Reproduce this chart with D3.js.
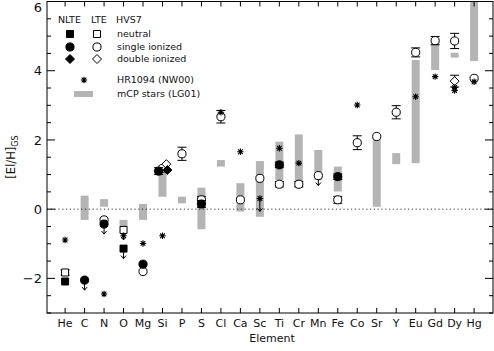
<!DOCTYPE html>
<html>
<head>
<meta charset="utf-8">
<script src="https://cdn.jsdelivr.net/npm/d3@7"></script>
<style>
  body { margin: 0; background: #fff; }
  text { font-family: "DejaVu Sans", sans-serif; fill: #111; }
</style>
</head>
<body>
<div id="chart"></div>
<script>
var width = 494;
var height = 351;

var elements = ["He", "C", "N", "O", "Mg", "Si", "P", "S", "Cl", "Ca", "Sc",
  "Ti", "Cr", "Mn", "Fe", "Co", "Sr", "Y", "Eu", "Gd", "Dy", "Hg"];

// mCP stars (LG01) ranges: [element, low, high]
var mcpRanges = [
  ["C", -0.31, 0.39], ["N", 0.07, 0.29], ["O", -0.52, -0.31], ["Mg", -0.31, 0.15],
  ["Si", 0.36, 1.28], ["P", 0.17, 0.36], ["S", -0.58, 0.62], ["Cl", 1.23, 1.42],
  ["Ca", -0.07, 0.75], ["Sc", -0.22, 1.39], ["Ti", 0.84, 1.95], ["Cr", 0.70, 2.16],
  ["Mn", 0.84, 1.71], ["Fe", 0.51, 1.23], ["Sr", 0.07, 2.10], ["Y", 1.30, 1.62],
  ["Eu", 1.33, 4.31], ["Gd", 4.02, 4.84], ["Dy", 4.38, 4.52], ["Hg", 4.28, 6.4]
];

// HR1094 (NW00): [element, value, upper limit]
var hr1094 = [
  ["He", -0.89, false], ["N", -2.45, false], ["O", -0.77, false], ["Mg", -0.99, false],
  ["Si", -0.77, false], ["Cl", 2.80, false], ["Ca", 1.66, false], ["Sc", 0.31, true],
  ["Ti", 1.76, false], ["Cr", 1.33, false], ["Co", 3.01, false], ["Eu", 3.25, false],
  ["Gd", 3.83, false], ["Dy", 3.52, false], ["Dy", 3.43, false], ["Hg", 3.68, false]
];

// HVS7: [element, value, error, upper limit, x shift]
var nlteNeutral = [["He", -2.09, 0, false, 0], ["O", -1.14, 0, true, 0]];
var lteNeutral = [["He", -1.83, 0.08, false, 0], ["O", -0.60, 0, true, 0]];
var nlteSingle = [
  ["C", -2.05, 0, true, 0], ["N", -0.43, 0, true, 0], ["Mg", -1.59, 0, false, 0],
  ["Si", 1.10, 0.10, false, -0.2], ["S", 0.15, 0.10, false, 0], ["Ti", 1.28, 0.08, false, 0],
  ["Fe", 0.94, 0.08, false, 0]
];
var lteSingle = [
  ["N", -0.31, 0, false, 0], ["Mg", -1.80, 0, false, 0], ["Si", 1.18, 0, false, 0],
  ["P", 1.60, 0.19, false, 0], ["S", 0.27, 0.10, false, 0], ["Cl", 2.67, 0.18, false, 0],
  ["Ca", 0.27, 0, false, 0], ["Sc", 0.89, 0, false, 0], ["Ti", 0.72, 0.08, false, 0],
  ["Cr", 0.72, 0.08, false, 0], ["Mn", 0.97, 0, true, 0], ["Fe", 0.27, 0.10, false, 0],
  ["Co", 1.92, 0.20, false, 0], ["Sr", 2.10, 0, false, 0], ["Y", 2.80, 0.19, false, 0],
  ["Eu", 4.53, 0.13, false, 0], ["Gd", 4.87, 0.12, false, 0], ["Dy", 4.86, 0.22, false, 0],
  ["Hg", 3.78, 0, false, 0]
];
var nlteDouble = [["Si", 1.13, 0, false, 0.25]];
var lteDouble = [["Si", 1.30, 0, false, 0.2], ["Dy", 3.70, 0.17, false, 0]];

var yTicks = [-2, 0, 2, 4, 6];

var plotLeft = 47, plotRight = 493, plotTop = 1.5, plotBottom = 313;

var x = d3.scaleLinear().domain([-0.93, 21.97]).range([plotLeft, plotRight]);
var y = d3.scaleLinear().domain([-3, 6]).range([plotBottom, plotTop]);

function ex(name, shift) {
  return x(elements.indexOf(name) + (shift || 0));
}

var svg = d3.select("#chart").append("svg")
  .attr("width", width).attr("height", height);

svg.append("defs").append("clipPath").attr("id", "plot-clip")
  .append("rect").attr("x", plotLeft).attr("y", plotTop)
  .attr("width", plotRight - plotLeft).attr("height", plotBottom - plotTop);

var plot = svg.append("g").attr("clip-path", "url(#plot-clip)");

// gray mCP bars
plot.selectAll("rect.mcp")
  .data(mcpRanges)
  .enter()
  .append("rect")
  .attr("class", "mcp")
  .attr("x", (d) => ex(d[0]) - 4)
  .attr("width", 8)
  .attr("y", (d) => y(d[2]))
  .attr("height", (d) => y(d[1]) - y(d[2]))
  .attr("fill", "#b4b4b4");

// zero line
plot.append("line")
  .attr("x1", plotLeft).attr("x2", plotRight)
  .attr("y1", y(0)).attr("y2", y(0))
  .attr("stroke", "#000").attr("stroke-width", 0.8)
  .attr("stroke-dasharray", "1.2,2.6");

function asteriskPath(s) {
  var d = s * 0.72;
  return `M${-s},0L${s},0M0,${-s}L0,${s}M${-d},${-d}L${d},${d}M${-d},${d}L${d},${-d}`;
}

function drawErrors(g, data) {
  var withErr = data.filter((d) => d[2] > 0);
  g.selectAll("path.err")
    .data(withErr)
    .enter()
    .append("path")
    .attr("class", "err")
    .attr("d", (d) => {
      var cx = ex(d[0], d[4]);
      var y1 = y(d[1] + d[2]);
      var y2 = y(d[1] - d[2]);
      return `M${cx},${y1}L${cx},${y2}M${cx - 4.5},${y1}L${cx + 4.5},${y1}M${cx - 4.5},${y2}L${cx + 4.5},${y2}`;
    })
    .attr("stroke", "#000")
    .attr("stroke-width", 1)
    .attr("fill", "none");
}

function drawLimits(g, data) {
  g.selectAll("path.lim")
    .data(data.filter((d) => d[3]))
    .enter()
    .append("path")
    .attr("class", "lim")
    .attr("d", (d) => {
      var cx = ex(d[0], d[4]);
      var cy = y(d[1]);
      var end = cy + 10;
      return `M${cx},${cy}L${cx},${end}M${cx - 2.5},${end - 3}L${cx},${end}L${cx + 2.5},${end - 3}`;
    })
    .attr("stroke", "#000")
    .attr("stroke-width", 1)
    .attr("fill", "none");
}

function drawMarkers(data, shape, filled) {
  var g = plot.append("g");
  drawLimits(g, data);
  drawErrors(g, data);
  g.selectAll("path.mk")
    .data(data)
    .enter()
    .append("path")
    .attr("class", "mk")
    .attr("transform", (d) => `translate(${ex(d[0], d[4])},${y(d[1])})`)
    .attr("d", shape)
    .attr("fill", filled ? "#000" : "#fff")
    .attr("stroke", "#000")
    .attr("stroke-width", 1);
}

var squareShape = "M-3.5,-3.5H3.5V3.5H-3.5Z";
var circleShape = d3.symbol().type(d3.symbolCircle).size(52)();
var diamondShape = "M0,-4.5L4.5,0L0,4.5L-4.5,0Z";

drawMarkers(lteNeutral, squareShape, false);
drawMarkers(nlteNeutral, squareShape, true);
drawMarkers(lteSingle, circleShape, false);
drawMarkers(nlteSingle, circleShape, true);
drawMarkers(lteDouble, diamondShape, false);
drawMarkers(nlteDouble, diamondShape, true);

// HR1094 asterisks
var starGroup = plot.append("g");
starGroup.selectAll("path.lim")
  .data(hr1094.filter((d) => d[2]))
  .enter()
  .append("path")
  .attr("d", (d) => {
    var cx = ex(d[0]), cy = y(d[1]), end = cy + 13;
    return `M${cx},${cy}L${cx},${end}M${cx - 2.5},${end - 3}L${cx},${end}L${cx + 2.5},${end - 3}`;
  })
  .attr("stroke", "#000").attr("fill", "none");
starGroup.selectAll("path.star")
  .data(hr1094)
  .enter()
  .append("path")
  .attr("class", "star")
  .attr("transform", (d) => `translate(${ex(d[0])},${y(d[1])})`)
  .attr("d", asteriskPath(3.2))
  .attr("stroke", "#000")
  .attr("stroke-width", 1.1)
  .attr("fill", "none");

// frame and ticks
svg.append("rect")
  .attr("x", plotLeft).attr("y", plotTop)
  .attr("width", plotRight - plotLeft).attr("height", plotBottom - plotTop)
  .attr("fill", "none").attr("stroke", "#000").attr("stroke-width", 1);

var minorY = d3.range(-3, 6.01, 0.5);
var axisG = svg.append("g").attr("stroke", "#000").attr("stroke-width", 1);

minorY.forEach((v) => {
  var len = yTicks.includes(v) ? 8 : 4;
  axisG.append("line").attr("x1", plotLeft).attr("x2", plotLeft + len)
    .attr("y1", y(v)).attr("y2", y(v));
  axisG.append("line").attr("x1", plotRight).attr("x2", plotRight - len)
    .attr("y1", y(v)).attr("y2", y(v));
});

elements.forEach((el, i) => {
  axisG.append("line").attr("x1", x(i)).attr("x2", x(i))
    .attr("y1", plotBottom).attr("y2", plotBottom - 5);
  axisG.append("line").attr("x1", x(i)).attr("x2", x(i))
    .attr("y1", plotTop).attr("y2", plotTop + 5);
});

// keep the top label inside the window
svg.selectAll("text.ytick")
  .data(yTicks)
  .enter()
  .append("text")
  .attr("class", "ytick")
  .attr("x", plotLeft - 5)
  .attr("y", (d) => Math.max(y(d), 7))
  .attr("dy", "0.36em")
  .attr("text-anchor", "end")
  .style("font-size", "13px")
  .text((d) => (d < 0 ? "\u2212" + Math.abs(d) : d));

svg.selectAll("text.xtick")
  .data(elements)
  .enter()
  .append("text")
  .attr("class", "xtick")
  .attr("x", (d, i) => x(i))
  .attr("y", 327)
  .attr("text-anchor", "middle")
  .style("font-size", "11px")
  .text((d) => d);

svg.append("text")
  .attr("x", 272).attr("y", 342)
  .attr("text-anchor", "middle")
  .style("font-size", "11px")
  .text("Element");

var ylab = svg.append("text")
  .attr("transform", "translate(15,157) rotate(-90)")
  .attr("text-anchor", "middle")
  .style("font-size", "11.5px");
ylab.append("tspan").text("[El/H]");
ylab.append("tspan").attr("dy", 3).style("font-size", "8px").text("GS");

// legend
var legend = svg.append("g").style("font-size", "9.5px");
[["NLTE", 58], ["LTE", 91], ["HVS7", 116]].forEach((h) => {
  legend.append("text").attr("x", h[1]).attr("y", 23).text(h[0]);
});

var legendRows = [
  [squareShape, "neutral", 34],
  [circleShape, "single ionized", 47],
  [diamondShape, "double ionized", 59]
];
legendRows.forEach((r) => {
  legend.append("path").attr("d", r[0])
    .attr("transform", `translate(70,${r[2]})`)
    .attr("fill", "#000").attr("stroke", "#000");
  legend.append("path").attr("d", r[0])
    .attr("transform", `translate(97,${r[2]})`)
    .attr("fill", "#fff").attr("stroke", "#000");
  legend.append("text").attr("x", 117).attr("y", r[2]).attr("dy", "0.35em").text(r[1]);
});

legend.append("path")
  .attr("transform", "translate(84,80)")
  .attr("d", asteriskPath(3.2))
  .attr("stroke", "#000").attr("stroke-width", 1.1).attr("fill", "none");
legend.append("text").attr("x", 117).attr("y", 80).attr("dy", "0.35em").text("HR1094 (NW00)");

legend.append("rect").attr("x", 74).attr("y", 91)
  .attr("width", 19).attr("height", 6).attr("fill", "#b4b4b4");
legend.append("text").attr("x", 117).attr("y", 94).attr("dy", "0.35em").text("mCP stars (LG01)");
</script>
</body>
</html>
